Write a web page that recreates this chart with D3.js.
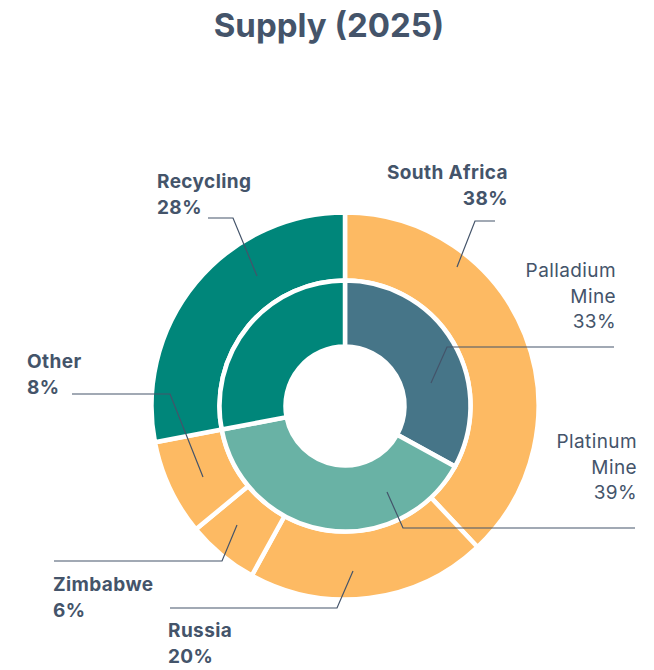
<!DOCTYPE html>
<meta charset="utf-8">

<head>
  <title>Supply (2025)</title>
  <style>
    body {
      margin: 0;
      background: #fff;
    }

    #viz text {
      font-family: Inter, "Open Sans", sans-serif;
      fill: #44546A;
    }
  </style>
</head>

<body>
  <svg id="viz" width="654" height="670"></svg>

  <script src="https://d3js.org/d3.v7.min.js"></script>

  <script>
    // outer ring: supply by region
    var outerLabels = ["South Africa", "Russia", "Zimbabwe", "Other", "Recycling"];
    var outerValues = [38, 20, 6, 8, 28];
    var outerColors = ["#FDBA63", "#FDBA63", "#FDBA63", "#FDBA63", "#00867A"];

    // inner ring: supply by source
    var innerLabels = ["Palladium Mine", "Platinum Mine", "Recycling"];
    var innerValues = [33, 39, 28];
    var innerColors = ["#467588", "#69B2A5", "#00867A"];

    var width = 654;
    var height = 670;
    var cx = 345;
    var cy = 406;

    // label placement for each slice (manual, like the original)
    // tx/ty: first baseline, from/elbow: leader line, end: point in the slice relative to centre
    var outerLayout = [
      { lines: ["South Africa", "38%"], tx: 508, ty: 179, anchor: "end", bold: true,
        from: [495, 221], elbow: [475, 221], end: [112, -139] },
      { lines: ["Russia", "20%"], tx: 168, ty: 637, anchor: "start", bold: true,
        from: [170, 608], elbow: [337, 608], end: [8, 165] },
      { lines: ["Zimbabwe", "6%"], tx: 53, ty: 591, anchor: "start", bold: true,
        from: [54, 561], elbow: [222, 561], end: [-108, 119] },
      { lines: ["Other", "8%"], tx: 27, ty: 368, anchor: "start", bold: true,
        from: [72, 394], elbow: [170, 394], end: [-142, 71] },
      { lines: ["Recycling", "28%"], tx: 157, ty: 188, anchor: "start", bold: true,
        from: [208, 218], elbow: [233, 218], end: [-88, -130] }
    ];
    var innerLayout = [
      { lines: ["Palladium", "Mine", "33%"], tx: 616, ty: 277, anchor: "end", bold: false,
        from: [614, 347], elbow: [447, 347], end: [86, -23] },
      { lines: ["Platinum", "Mine", "39%"], tx: 637, ty: 448, anchor: "end", bold: false,
        from: [635, 528], elbow: [403, 528], end: [42, 86] },
      null
    ];

    var svg = d3.select("#viz");

    svg.append("text")
      .attr("x", 329)
      .attr("y", 37)
      .attr("text-anchor", "middle")
      .attr("font-size", 33)
      .attr("font-weight", 700)
      .text("Supply (2025)");

    var pie = d3.pie().sort(null).value(d => d);

    var outerArc = d3.arc().innerRadius(125.5).outerRadius(193.5);
    var innerArc = d3.arc().innerRadius(59.5).outerRadius(125.5);

    var chart = svg.append("g").attr("transform", "translate(" + cx + "," + cy + ")");

    chart.append("g").attr("class", "outer")
      .selectAll("path")
      .data(pie(outerValues))
      .enter()
      .append("path")
      .attr("d", outerArc)
      .attr("fill", (d, i) => outerColors[i])
      .attr("stroke", "#fff")
      .attr("stroke-width", 4.5)
      .attr("stroke-linejoin", "miter");

    chart.append("g").attr("class", "inner")
      .selectAll("path")
      .data(pie(innerValues))
      .enter()
      .append("path")
      .attr("d", innerArc)
      .attr("fill", (d, i) => innerColors[i])
      .attr("stroke", "#fff")
      .attr("stroke-width", 4.5)
      .attr("stroke-linejoin", "miter");

    var labels = outerLayout.concat(innerLayout).filter(d => d);

    var leaders = svg.append("g").attr("class", "leaders");
    leaders.selectAll("polyline")
      .data(labels)
      .enter()
      .append("polyline")
      .attr("points", d => [d.from, d.elbow, [cx + d.end[0], cy + d.end[1]]].map(p => p.join(",")).join(" "))
      .attr("fill", "none")
      .attr("stroke", "#44546A")
      .attr("stroke-width", 1.2);

    var texts = svg.append("g").attr("class", "labels")
      .selectAll("text")
      .data(labels)
      .enter()
      .append("text")
      .attr("text-anchor", d => d.anchor)
      .attr("font-size", 19)
      .attr("letter-spacing", 0.4)
      .attr("font-weight", d => d.bold ? 700 : 400);

    texts.selectAll("tspan")
      .data(d => d.lines.map(l => ({ line: l, parent: d })))
      .enter()
      .append("tspan")
      .attr("x", d => d.parent.tx)
      .attr("y", (d, i) => d.parent.ty + i * 25.5)
      .text(d => d.line);
  </script>
</body>

</html>
